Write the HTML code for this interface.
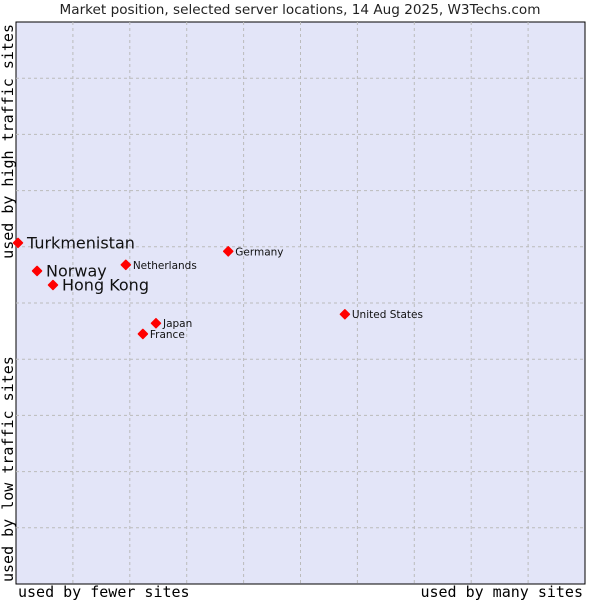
<!DOCTYPE html>
<html><head><meta charset="utf-8"><style>
body{margin:0;background:#fff;}
svg{display:block;}
</style></head><body>
<svg id="chart" width="600" height="600" xmlns="http://www.w3.org/2000/svg">
<text x="300" y="14" text-anchor="middle" font-family="DejaVu Sans, sans-serif" font-size="13.6" fill="#222">Market position, selected server locations, 14 Aug 2025, W3Techs.com</text>
<rect x="16" y="22" width="569" height="562" fill="#e3e5f8" stroke="#000" stroke-width="1"/>
<g id="grid"></g>
<text x="18" y="597" font-family="DejaVu Sans Mono, Liberation Mono, monospace" font-size="15" fill="#000">used by fewer sites</text>
<text x="583" y="597" text-anchor="end" font-family="DejaVu Sans Mono, Liberation Mono, monospace" font-size="15" fill="#000">used by many sites</text>
<text transform="translate(13,24) rotate(-90)" text-anchor="end" font-family="DejaVu Sans Mono, Liberation Mono, monospace" font-size="15" fill="#000">used by high traffic sites</text>
<text transform="translate(13,582) rotate(-90)" font-family="DejaVu Sans Mono, Liberation Mono, monospace" font-size="15" fill="#000">used by low traffic sites</text>
<g id="points"></g>
</svg>
<script>
const countries = ["Turkmenistan","Norway","Hong Kong","Netherlands","Germany","United States","Japan","France"];
const xValues = [0.35,3.7,6.5,19.3,37.3,57.8,24.6,22.3];
const yValues = [60.7,55.7,53.2,56.8,59.2,48.0,46.4,44.5];
const bigLabel = [true,true,true,false,false,false,false,false];
const NS="http://www.w3.org/2000/svg";
const L=16,T=22,W=569,H=562;
function sx(v){return L+v/100*W;}
function sy(v){return T+H-v/100*H;}
const grid=document.getElementById('grid');
for(let i=1;i<10;i++){
  const v=document.createElementNS(NS,'line');
  v.setAttribute('x1',sx(i*10));v.setAttribute('x2',sx(i*10));v.setAttribute('y1',T);v.setAttribute('y2',T+H);
  v.setAttribute('stroke','#bbb');v.setAttribute('stroke-dasharray','3,3');
  
  
  grid.appendChild(v);
  const h=document.createElementNS(NS,'line');
  h.setAttribute('y1',sy(i*10));h.setAttribute('y2',sy(i*10));h.setAttribute('x1',L);h.setAttribute('x2',L+W);
  h.setAttribute('stroke','#bbb');h.setAttribute('stroke-dasharray','3,3');
  
  
  grid.appendChild(h);
}
const pts=document.getElementById('points');
countries.forEach((c,i)=>{
  const x=sx(xValues[i]),y=sy(yValues[i]);
  const m=document.createElementNS(NS,'path');
  m.setAttribute('d',`M${x},${y-4.5} L${x+4.5},${y} L${x},${y+4.5} L${x-4.5},${y} Z`);
  m.setAttribute('fill','#f00');m.setAttribute('stroke','#f00');m.setAttribute('stroke-width','1.5');m.setAttribute('stroke-linejoin','round');
  
  
  pts.appendChild(m);
  const t=document.createElementNS(NS,'text');
  const big=bigLabel[i];
  t.setAttribute('x',x+(big?9:7));t.setAttribute('y',y+(big?5.5:4));
  t.setAttribute('font-family','DejaVu Sans, sans-serif');
  t.setAttribute('font-size',big?'16':'10.5');
  t.setAttribute('fill','#111');
  t.textContent=c;
  
  
  pts.appendChild(t);
});
</script>
</body></html>
